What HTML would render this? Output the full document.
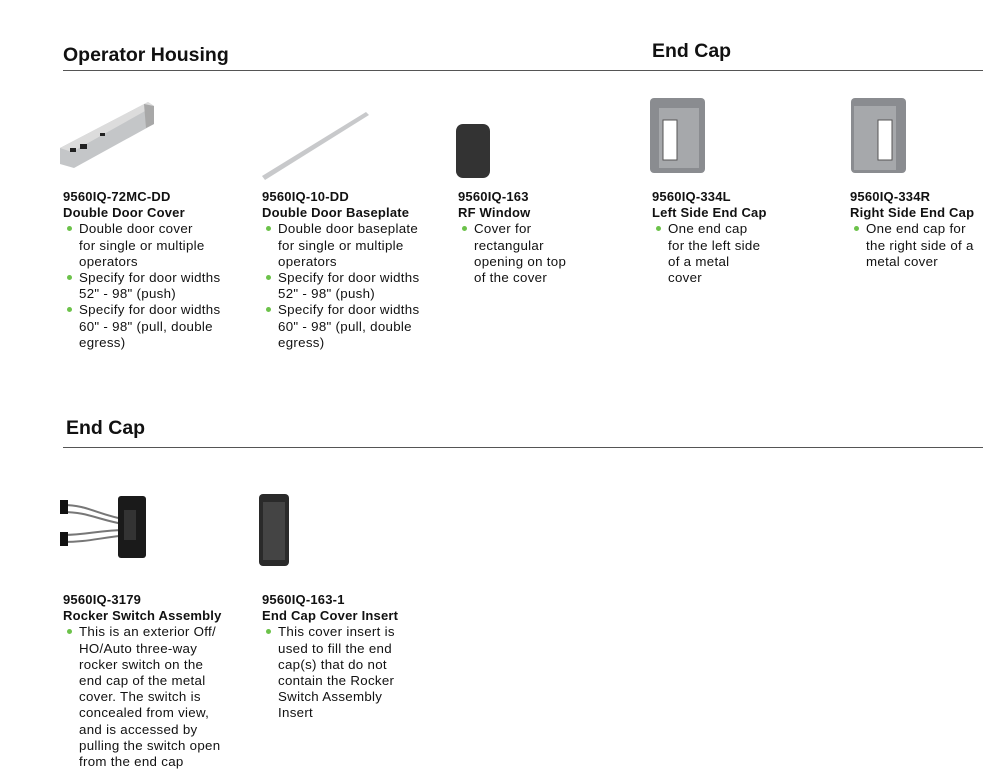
<!DOCTYPE html>
<html><head><meta charset="utf-8"><style>
body{margin:0;width:996px;height:774px;background:#fff;font-family:"Liberation Sans",sans-serif;color:#111;position:relative;overflow:hidden}
.h{position:absolute;font-weight:bold;font-size:19.5px;letter-spacing:0px}
.line{position:absolute;height:1px;background:#555;left:63px;width:920px}
.it{position:absolute;font-size:13.3px;line-height:16.2px;white-space:nowrap;letter-spacing:0.3px}
.it b{display:block;font-size:13px;letter-spacing:0.2px}
.bl{position:relative;padding-left:16px}
.bl:before{content:"";position:absolute;left:4px;top:5px;width:5px;height:5px;border-radius:50%;background:#6cc24a}
svg{position:absolute}
</style></head><body>
<div class="h" style="left:63px;top:44px">Operator Housing</div>
<div class="h" style="left:652px;top:40px">End Cap</div>
<div class="line" style="top:70px"></div>
<div class="h" style="left:66px;top:417px">End Cap</div>
<div class="line" style="top:447px"></div>

<svg style="left:58px;top:98px" width="100" height="70"><polygon points="2,50 90,4 96,8 96,26 16,70 2,66" fill="#c4c6c8"/><polygon points="2,50 90,4 96,8 14,54" fill="#dcdcdc"/><polygon points="86,6 96,8 96,26 88,30" fill="#a8a8a8"/><rect x="12" y="50" width="6" height="4" fill="#222"/><rect x="22" y="46" width="7" height="5" fill="#222"/><rect x="42" y="35" width="5" height="3" fill="#222"/></svg>
<svg style="left:262px;top:110px" width="110" height="72"><polygon points="0,66 104,2 107,5 3,70" fill="#c8c9cb"/></svg>
<svg style="left:454px;top:120px" width="40" height="60"><rect x="2" y="4" width="34" height="54" rx="7" fill="#333"/></svg>
<svg style="left:645px;top:88px" width="65" height="90"><rect x="5" y="10" width="55" height="75" rx="4" fill="#8a8c90"/><rect x="14" y="20" width="40" height="60" fill="#a6a8ab"/><rect x="18" y="32" width="14" height="40" fill="#fff" stroke="#555"/></svg>
<svg style="left:846px;top:88px" width="65" height="90"><rect x="5" y="10" width="55" height="75" rx="4" fill="#8a8c90"/><rect x="8" y="18" width="42" height="64" fill="#a6a8ab"/><rect x="32" y="32" width="14" height="40" fill="#fff" stroke="#555"/></svg>
<svg style="left:58px;top:490px" width="95" height="75"><path d="M5,15 C30,15 40,25 70,30 M5,22 C30,22 40,30 70,35 M5,45 C30,45 40,40 70,40 M5,52 C30,52 40,48 70,45" stroke="#777" fill="none" stroke-width="2"/><rect x="2" y="10" width="8" height="14" fill="#111"/><rect x="2" y="42" width="8" height="14" fill="#111"/><rect x="60" y="6" width="28" height="62" rx="3" fill="#1a1a1a"/><rect x="66" y="20" width="12" height="30" fill="#333"/></svg>
<svg style="left:255px;top:490px" width="40" height="80"><rect x="4" y="4" width="30" height="72" rx="4" fill="#2a2a2a"/><rect x="8" y="12" width="22" height="58" fill="#444"/></svg>

<div class="it" style="left:63px;top:189px"><b>9560IQ-72MC-DD</b><b>Double Door Cover</b><div class="bl">Double door cover<br>for single or multiple<br>operators</div><div class="bl">Specify for door widths<br>52" - 98" (push)</div><div class="bl">Specify for door widths<br>60" - 98" (pull, double<br>egress)</div></div>
<div class="it" style="left:262px;top:189px"><b>9560IQ-10-DD</b><b>Double Door Baseplate</b><div class="bl">Double door baseplate<br>for single or multiple<br>operators</div><div class="bl">Specify for door widths<br>52" - 98" (push)</div><div class="bl">Specify for door widths<br>60" - 98" (pull, double<br>egress)</div></div>
<div class="it" style="left:458px;top:189px"><b>9560IQ-163</b><b>RF Window</b><div class="bl">Cover for<br>rectangular<br>opening on top<br>of the cover</div></div>
<div class="it" style="left:652px;top:189px"><b>9560IQ-334L</b><b>Left Side End Cap</b><div class="bl">One end cap<br>for the left side<br>of a metal<br>cover</div></div>
<div class="it" style="left:850px;top:189px"><b>9560IQ-334R</b><b>Right Side End Cap</b><div class="bl">One end cap for<br>the right side of a<br>metal cover</div></div>
<div class="it" style="left:63px;top:592px"><b>9560IQ-3179</b><b>Rocker Switch Assembly</b><div class="bl">This is an exterior Off/<br>HO/Auto three-way<br>rocker switch on the<br>end cap of the metal<br>cover. The switch is<br>concealed from view,<br>and is accessed by<br>pulling the switch open<br>from the end cap</div></div>
<div class="it" style="left:262px;top:592px"><b>9560IQ-163-1</b><b>End Cap Cover Insert</b><div class="bl">This cover insert is<br>used to fill the end<br>cap(s) that do not<br>contain the Rocker<br>Switch Assembly<br>Insert</div></div>
</body></html>
